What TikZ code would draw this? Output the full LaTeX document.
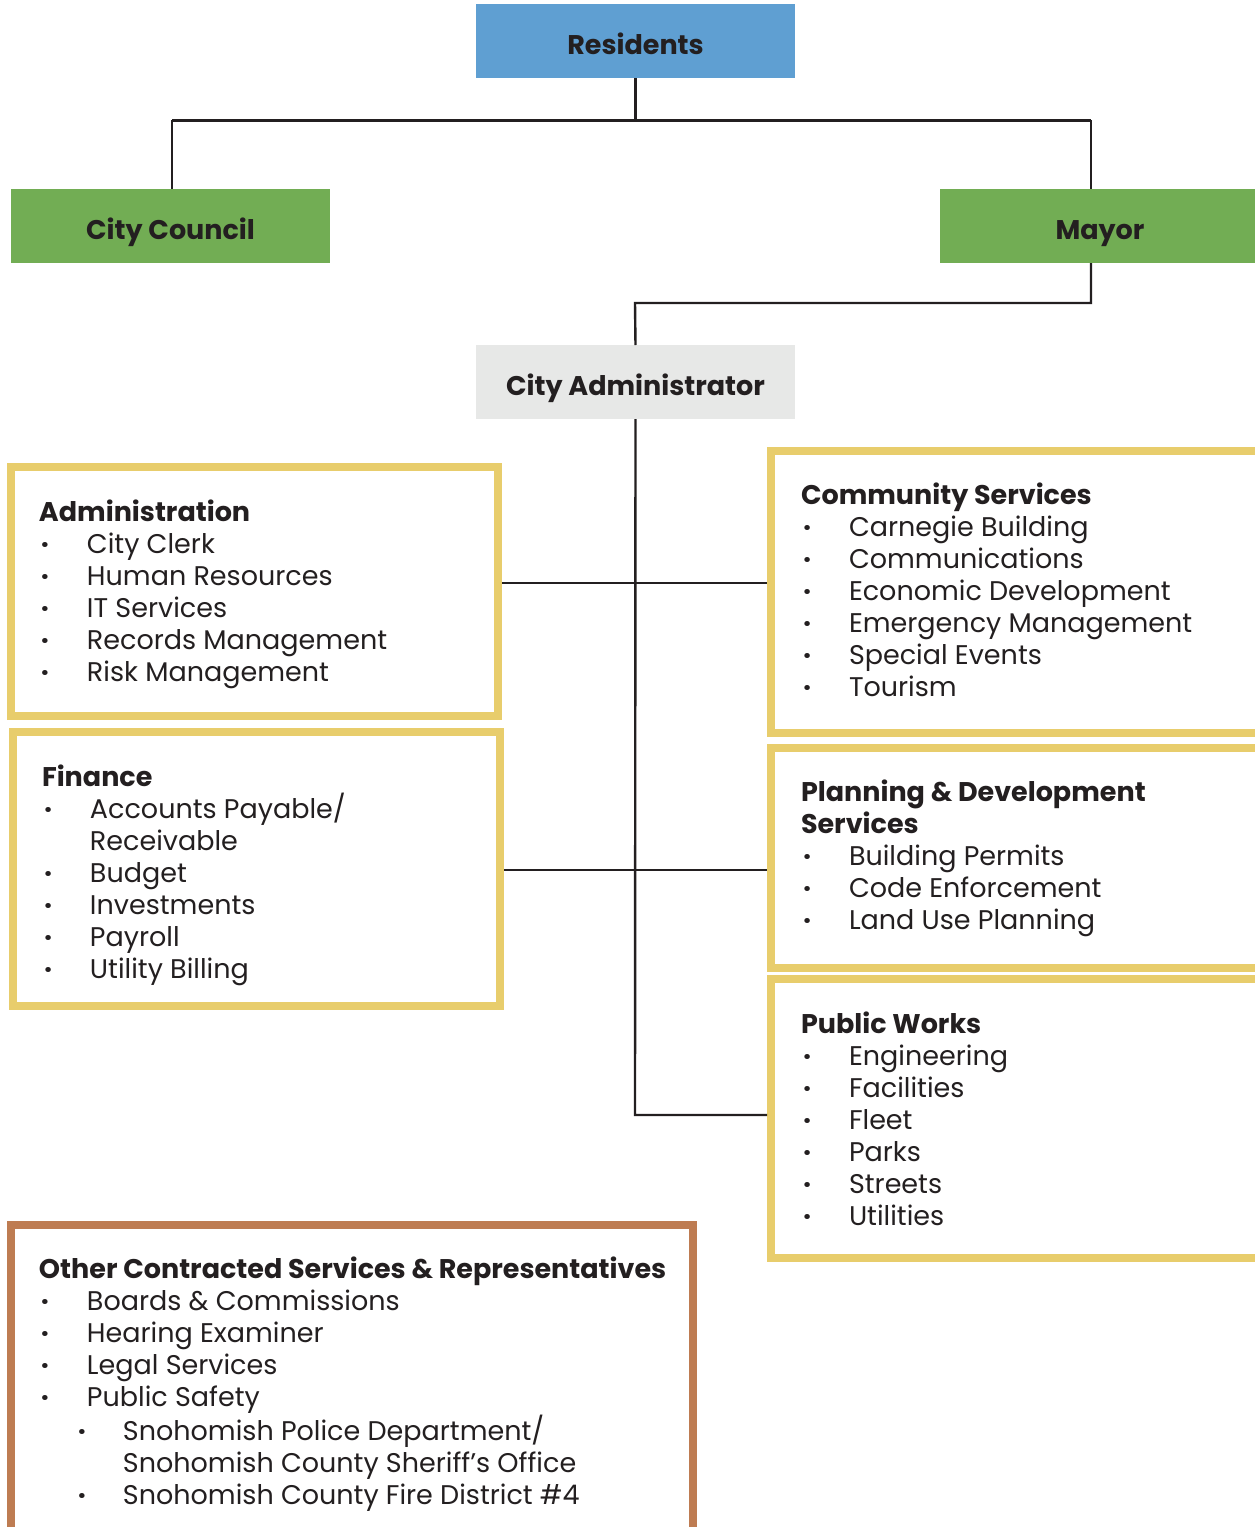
\documentclass[tikz,border=0pt]{standalone}
\usepackage{fontspec}
\setmainfont{Poppins}

\definecolor{ink}{HTML}{231F20}
\definecolor{resblue}{HTML}{5F9FD2}
\definecolor{leafgreen}{HTML}{72AD54}
\definecolor{admgray}{HTML}{E7E8E7}
\definecolor{gold}{HTML}{E8CD6C}
\definecolor{copper}{HTML}{BE7C52}

% list lines: heading, bullet item, continuation, sub-item
\newcommand\dotmark{\textbf{·}}
\newcommand\hd[1]{\hbox{\bfseries #1}}
\newcommand\itm[1]{\hbox{\makebox[24pt][l]{\hspace{1pt}\dotmark}#1}}
\newcommand\more[1]{\hbox{\hspace*{24pt}#1}}
\newcommand\subitm[1]{\hbox{\hspace*{19.5pt}\makebox[22.5pt][l]{\dotmark}#1}}
\newcommand\submore[1]{\hbox{\hspace*{42pt}#1}}

\tikzset{
  office/.style={font=\bfseries\fontsize{13.5pt}{16pt}\selectfont, text=ink,
    minimum width=159.5pt, minimum height=37pt, inner sep=0pt, outer sep=0pt,
    text height=13pt, text depth=0pt},
  panel/.style={draw=#1, line width=4pt, anchor=north west, inner sep=0pt},
  list/.style={anchor=base west, inner sep=0pt, outer sep=0pt, text=ink,
    font=\fontsize{13.5pt}{16pt}\selectfont},
  link/.style={draw=ink, line width=1.2pt},
}

\begin{document}
\begin{tikzpicture}[x=0.5pt, y=-0.5pt]
\useasboundingbox[fill=white] (0,0) rectangle (1254,1527);

% offices
\node[office, fill=resblue] (res) at (635.5,41) {Residents};
\node[office, fill=leafgreen] (council) at (170.5,226) {City Council};
\node[office, fill=leafgreen, minimum width=160pt] (mayor) at (1100,226) {Mayor};
\node[office, fill=admgray] (cadm) at (635.5,382) {City Administrator};

% department panels
\node[panel=gold, minimum width=243.5pt, minimum height=124.5pt] (adm) at (7,463) {};
\node[panel=gold, minimum width=243.5pt, minimum height=137pt] (fin) at (9,728) {};
\node[panel=gold, minimum width=247.5pt, minimum height=141pt] (cs) at (767,447) {};
\node[panel=gold, minimum width=247.5pt, minimum height=110pt] (pd) at (767,744) {};
\node[panel=gold, minimum width=247.5pt, minimum height=139.5pt] (pw) at (767,975) {};
\node[panel=copper, minimum width=341pt, minimum height=155.5pt] (oth) at (7,1221) {};

% panel contents
\node[list] (admtxt) at (39,521) {\vtop{%
  \hd{Administration}
  \itm{City Clerk}
  \itm{Human Resources}
  \itm{IT Services}
  \itm{Records Management}
  \itm{Risk Management}}};

\node[list] (fintxt) at (42,786) {\vtop{%
  \hd{Finance}
  \itm{Accounts Payable/}
  \more{Receivable}
  \itm{Budget}
  \itm{Investments}
  \itm{Payroll}
  \itm{Utility Billing}}};

\node[list] (cstxt) at (801,504) {\vtop{%
  \hd{Community Services}
  \itm{Carnegie Building}
  \itm{Communications}
  \itm{Economic Development}
  \itm{Emergency Management}
  \itm{Special Events}
  \itm{Tourism}}};

\node[list] (pdtxt) at (801,801) {\vtop{%
  \hd{Planning \& Development}
  \hd{Services}
  \itm{Building Permits}
  \itm{Code Enforcement}
  \itm{Land Use Planning}}};

\node[list] (pwtxt) at (801,1033) {\vtop{%
  \hd{Public Works}
  \itm{Engineering}
  \itm{Facilities}
  \itm{Fleet}
  \itm{Parks}
  \itm{Streets}
  \itm{Utilities}}};

\node[list] (othtxt) at (39,1278) {\vtop{%
  \hd{Other Contracted Services \& Representatives}
  \itm{Boards \& Commissions}
  \itm{Hearing Examiner}
  \itm{Legal Services}
  \itm{Public Safety}
  \subitm{Snohomish Police Department/}
  \submore{Snohomish County Sheriff’s Office}
  \subitm{Snohomish County Fire District \#4}}};

% junction points
\coordinate (jl) at (172,120);
\coordinate (jr) at (1091,120);
\coordinate (jm) at (635,303);
\coordinate (row1) at (635,583);
\coordinate (row2) at (635,870);
\coordinate (spine) at (635,1115);

% connectors
\draw[link] (res.south) -- (res.south |- jl);
\draw[link, line width=1.5pt] (jl) -- (jr);
\draw[link] (jl) -- (council.north -| jl);
\draw[link] (jr) -- (mayor.north -| jr);
\draw[link] (mayor.south -| jr) -- (jr |- jm) -- (jm) -- (cadm.north);
\draw[link] (cadm.south) -- (spine) -- (pw.west |- spine);
\draw[link] (adm.east |- row1) -- (cs.west |- row1);
\draw[link] (fin.east |- row2) -- (pd.west |- row2);
\end{tikzpicture}
\end{document}
